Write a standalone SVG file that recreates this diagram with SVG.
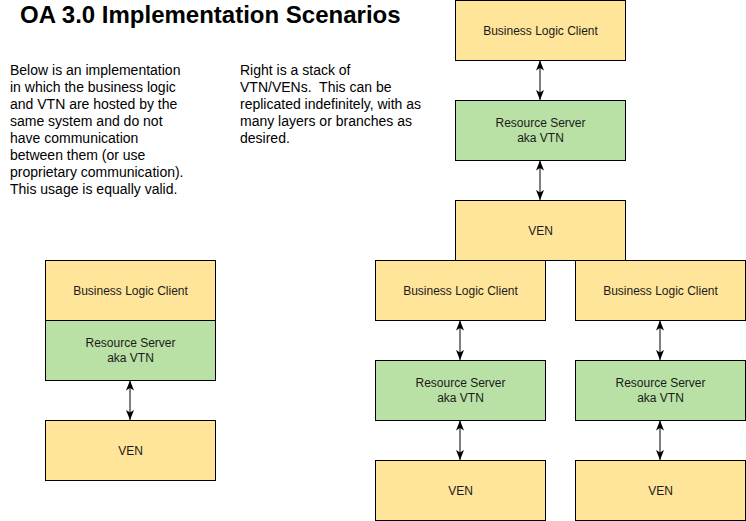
<svg xmlns="http://www.w3.org/2000/svg" width="746" height="521" viewBox="0 0 746 521">
<style>
  text { font-family: "Liberation Sans", Arial, sans-serif; fill: #000; }
  .title { font-size: 24px; font-weight: bold; }
  .body { font-size: 14px; }
  .lbl { font-size: 12px; text-anchor: middle; dominant-baseline: central; fill: #1a1a1a; }
  .y { fill: #FFE599; stroke: #000; stroke-width: 1; }
  .g { fill: #B9E0A5; stroke: #000; stroke-width: 1; }
  .c { stroke: #000; stroke-width: 1; fill: none; marker-start: url(#a); marker-end: url(#a); }
</style>
<defs>
  <marker id="a" viewBox="0 0 10 8" refX="10" refY="4" markerWidth="10" markerHeight="8" markerUnits="userSpaceOnUse" orient="auto-start-reverse">
    <path d="M0,0 L10,4 L0,8 L2.5,4 Z" fill="#000"/>
  </marker>
</defs>
<rect width="746" height="521" fill="#fff"/>
<text class="title" x="20" y="23">OA 3.0 Implementation Scenarios</text>
<g id="text-left" class="body">
  <text class="body" x="10" y="75">Below is an implementation</text>
  <text class="body" x="10" y="92">in which the business logic</text>
  <text class="body" x="10" y="109">and VTN are hosted by the</text>
  <text class="body" x="10" y="126">same system and do not</text>
  <text class="body" x="10" y="143">have communication</text>
  <text class="body" x="10" y="160">between them (or use</text>
  <text class="body" x="10" y="177">proprietary communication).</text>
  <text class="body" x="10" y="194">This usage is equally valid.</text>
</g>
<g id="text-right">
  <text class="body" x="240" y="75">Right is a stack of</text>
  <text class="body" x="240" y="92">VTN/VENs.&#160; This can be</text>
  <text class="body" x="240" y="109">replicated indefinitely, with as</text>
  <text class="body" x="240" y="126">many layers or branches as</text>
  <text class="body" x="240" y="143">desired.</text>
</g>
<g id="connectors">
  <line class="c" x1="540" y1="60.5" x2="540" y2="100"/>
  <line class="c" x1="540" y1="160.5" x2="540" y2="200"/>
  <line class="c" x1="130" y1="380.5" x2="130" y2="420"/>
  <line class="c" x1="460" y1="320.5" x2="460" y2="360"/>
  <line class="c" x1="460" y1="420.5" x2="460" y2="460"/>
  <line class="c" x1="660" y1="320.5" x2="660" y2="360"/>
  <line class="c" x1="660" y1="420.5" x2="660" y2="460"/>
</g>
<g id="top-blc"><rect class="y" x="455.5" y="0.5" width="170" height="60"/><text class="lbl" x="540.5" y="30.5">Business Logic Client</text></g>
<g id="top-rs"><rect class="g" x="455.5" y="100.5" width="170" height="60"/><text class="lbl" x="540.5" y="123">Resource Server</text><text class="lbl" x="540.5" y="138">aka VTN</text></g>
<g id="top-ven"><rect class="y" x="455.5" y="200.5" width="170" height="60"/><text class="lbl" x="540.5" y="230.5">VEN</text></g>
<g id="l-blc"><rect class="y" x="375.5" y="260.5" width="170" height="60"/><text class="lbl" x="460.5" y="290.5">Business Logic Client</text></g>
<g id="r-blc"><rect class="y" x="575.5" y="260.5" width="170" height="60"/><text class="lbl" x="660.5" y="290.5">Business Logic Client</text></g>
<g id="l-rs"><rect class="g" x="375.5" y="360.5" width="170" height="60"/><text class="lbl" x="460.5" y="383">Resource Server</text><text class="lbl" x="460.5" y="398">aka VTN</text></g>
<g id="r-rs"><rect class="g" x="575.5" y="360.5" width="170" height="60"/><text class="lbl" x="660.5" y="383">Resource Server</text><text class="lbl" x="660.5" y="398">aka VTN</text></g>
<g id="l-ven"><rect class="y" x="375.5" y="460.5" width="170" height="60"/><text class="lbl" x="460.5" y="490.5">VEN</text></g>
<g id="r-ven"><rect class="y" x="575.5" y="460.5" width="170" height="60"/><text class="lbl" x="660.5" y="490.5">VEN</text></g>
<g id="s-blc"><rect class="y" x="45.5" y="260.5" width="170" height="60"/><text class="lbl" x="130.5" y="290.5">Business Logic Client</text></g>
<g id="s-rs"><rect class="g" x="45.5" y="320.5" width="170" height="60"/><text class="lbl" x="130.5" y="343">Resource Server</text><text class="lbl" x="130.5" y="358">aka VTN</text></g>
<g id="s-ven"><rect class="y" x="45.5" y="420.5" width="170" height="60"/><text class="lbl" x="130.5" y="450.5">VEN</text></g>
</svg>
